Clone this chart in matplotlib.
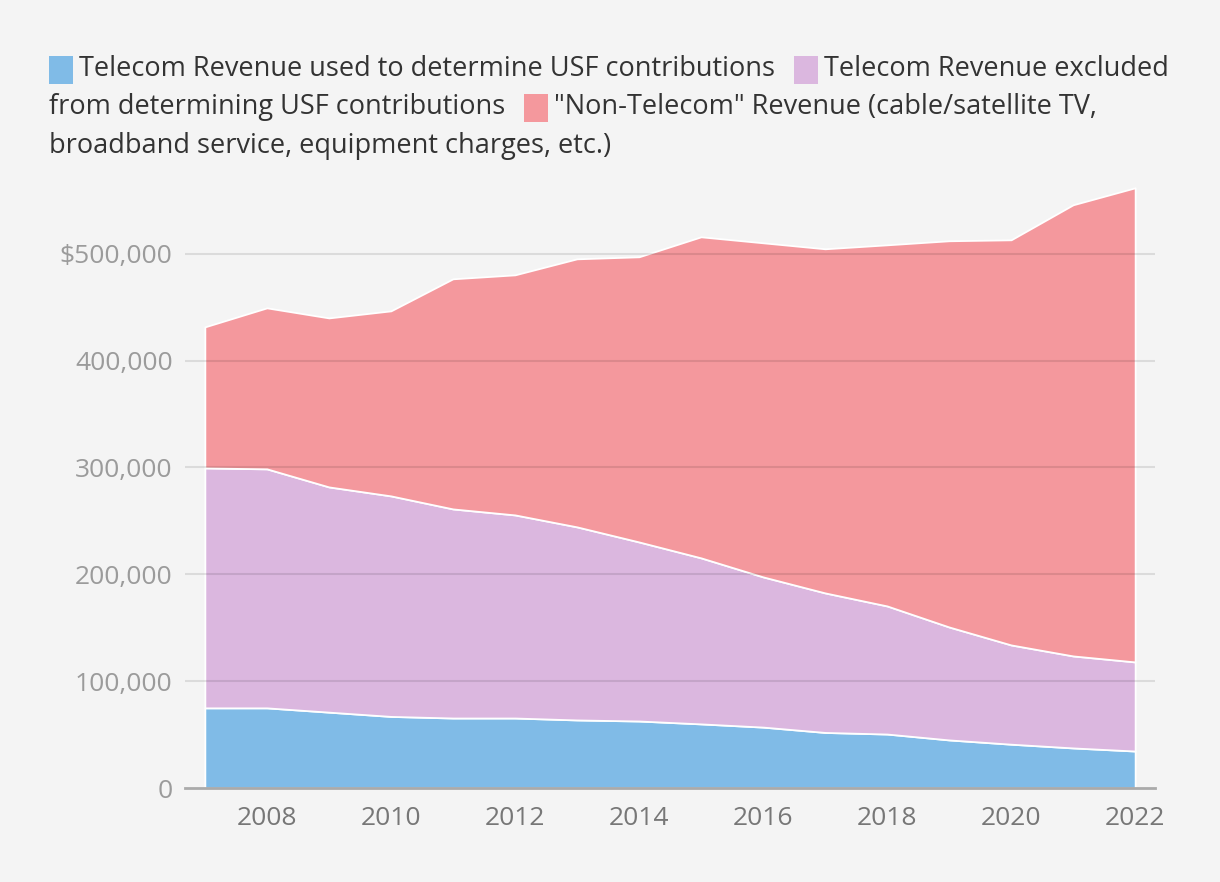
import matplotlib
matplotlib.use("Agg")
import matplotlib.pyplot as plt
from matplotlib.patches import Rectangle
from matplotlib.ticker import FuncFormatter

# values in thousands of dollars
years = list(range(2007, 2023))
usf_revenue = [75, 75, 71, 67, 65.5, 65.5, 63.7, 62.7, 60, 57, 52, 50.5, 45, 41, 37.5, 34.6]
telecom_total = [299.6, 298.7, 281.8, 273.4, 261.2, 255.6, 244.4, 230.3, 215.4, 197.6,
                 182.6, 170.4, 150.7, 133.9, 123.6, 118]
grand_total = [431.6, 449.4, 440, 446.6, 476.6, 480.3, 495.3, 497.2, 515.9, 510.3,
               504.7, 508.4, 512.2, 513.1, 545.9, 561.8]

excluded_revenue = [t - u for t, u in zip(telecom_total, usf_revenue)]
non_telecom_revenue = [g - t for g, t in zip(grand_total, telecom_total)]

series_labels = [
    "Telecom Revenue used to determine USF contributions",
    "Telecom Revenue excluded from determining USF contributions",
    '"Non-Telecom" Revenue (cable/satellite TV, broadband service, equipment charges, etc.)',
]
colors = ["#80bbe7", "#dbb7df", "#f4989d"]
x_ticks = list(range(2008, 2023, 2))
y_ticks = [0, 100, 200, 300, 400, 500]

# legend text, broken the way the reference wraps it (None = no swatch)
legend_rows = [
    [(0, "Telecom Revenue used to determine USF contributions"), (1, "Telecom Revenue excluded")],
    [(None, "from determining USF contributions"), (2, '"Non-Telecom" Revenue (cable/satellite TV,')],
    [(None, "broadband service, equipment charges, etc.)")],
]

W, H = 1220, 882
BG = "#f4f4f4"
plt.rcParams["font.family"] = ["Open Sans", "DejaVu Sans"]

fig = plt.figure(figsize=(W / 100, H / 100), dpi=100, facecolor=BG)
ax = fig.add_axes([185 / W, 1 - 788 / H, (1155 - 185) / W, (788 - 179) / H])
ax.set_facecolor(BG)

ax.stackplot(years, usf_revenue, excluded_revenue, non_telecom_revenue,
             colors=colors, edgecolor="white", linewidth=1.3, labels=series_labels, zorder=2)

ax.set_xlim(2006.68, 2022.32)
ax.set_ylim(0, 570)
ax.set_yticks(y_ticks)
ax.set_xticks(x_ticks)
ax.yaxis.set_major_formatter(FuncFormatter(
    lambda v, _: "0" if v == 0 else ("$" if v == 500 else "") + f"{int(v * 1000):,}"))
ax.tick_params(axis="y", length=0, pad=9, labelsize=19, labelcolor="#9b9b9b")
ax.tick_params(axis="x", length=0, pad=13, labelsize=19, labelcolor="#777777")

for v in y_ticks[1:]:
    ax.axhline(v, color="black", alpha=0.1, linewidth=1.5, zorder=3)
for side in ["top", "right", "left"]:
    ax.spines[side].set_visible(False)
ax.spines["bottom"].set_color("#aaaaaa")
ax.spines["bottom"].set_linewidth(2)
ax.spines["bottom"].set_zorder(4)

# flowing legend at the top
renderer = fig.canvas.get_renderer()
row_centers = [69, 107, 146]
for row, yc in zip(legend_rows, row_centers):
    x = 49
    for idx, text in row:
        if idx is not None:
            fig.patches.append(Rectangle((x / W, 1 - (yc + 15) / H), 24 / W, 28 / H,
                                         transform=fig.transFigure, facecolor=colors[idx],
                                         edgecolor="none"))
            x += 30
        t = fig.text(x / W, 1 - yc / H, text, fontsize=19.5, color="#333333",
                     ha="left", va="center")
        bb = t.get_window_extent(renderer)
        x = bb.x1 + 19

fig.savefig("out.png", dpi=100, facecolor=BG)
